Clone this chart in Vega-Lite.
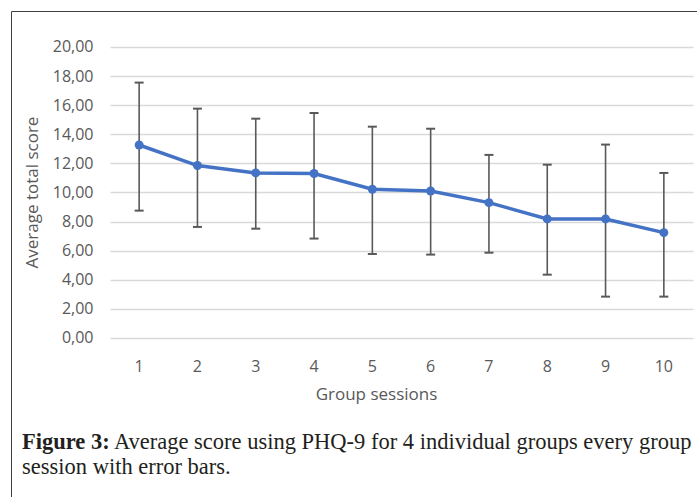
{
  "$schema": "https://vega.github.io/schema/vega-lite/v6.json",
  "width": 686,
  "height": 486,
  "autosize": {"type": "none"},
  "padding": {"left": 11, "top": 11, "right": 0, "bottom": 0},
  "background": "white",
  "config": {
    "view": {"stroke": "#3f3f3f", "strokeWidth": 1},
    "font": "Open Sans"
  },
  "title": {
    "text": "Figure 3:",
    "subtitle": [
      "\u200b\u00a0\u00a0\u00a0\u00a0\u00a0\u00a0\u00a0\u00a0\u00a0\u00a0\u00a0\u00a0\u00a0\u00a0\u00a0\u00a0\u200aAverage score using PHQ-9 for 4 individual groups every group",
      "session with error bars."
    ],
    "orient": "bottom",
    "anchor": "start",
    "frame": "group",
    "font": "Liberation Serif",
    "fontSize": 22.5,
    "fontWeight": "bold",
    "color": "#231f20",
    "subtitleFont": "Liberation Serif",
    "subtitleFontSize": 22.5,
    "subtitleFontWeight": "normal",
    "subtitleColor": "#231f20",
    "subtitlePadding": -22.5,
    "subtitleLineHeight": 25,
    "offset": -66,
    "dx": 11
  },
  "data": {
    "values": [
      {"session": 1, "mean": 13.26, "lower": 8.75, "upper": 17.55},
      {"session": 2, "mean": 11.85, "lower": 7.63, "upper": 15.76},
      {"session": 3, "mean": 11.34, "lower": 7.51, "upper": 15.07},
      {"session": 4, "mean": 11.3, "lower": 6.83, "upper": 15.46},
      {"session": 5, "mean": 10.22, "lower": 5.77, "upper": 14.52},
      {"session": 6, "mean": 10.1, "lower": 5.73, "upper": 14.38},
      {"session": 7, "mean": 9.3, "lower": 5.86, "upper": 12.58},
      {"session": 8, "mean": 8.18, "lower": 4.35, "upper": 11.91},
      {"session": 9, "mean": 8.18, "lower": 2.84, "upper": 13.29},
      {"session": 10, "mean": 7.24, "lower": 2.84, "upper": 11.34}
    ]
  },
  "encoding": {
    "x": {
      "field": "session",
      "type": "ordinal",
      "scale": {"type": "band", "range": [99, 682], "paddingInner": 0, "paddingOuter": 0},
      "axis": {
        "title": "Group sessions",
        "labelAngle": 0,
        "domain": false,
        "ticks": false,
        "tickSize": 0,
        "grid": false,
        "offset": -159,
        "labelPadding": 33,
        "labelBaseline": "alphabetic",
        "labelFont": "Open Sans",
        "labelFontSize": 16,
        "labelColor": "#595959",
        "titleFont": "Open Sans",
        "titleFontSize": 17,
        "titleFontWeight": "normal",
        "titleColor": "#595959",
        "titleX": 365,
        "titleY": 61,
        "titleBaseline": "alphabetic"
      }
    }
  },
  "layer": [
    {
      "mark": {"type": "rule", "color": "#595959", "strokeWidth": 1.6},
      "encoding": {
        "y": {
          "field": "lower",
          "type": "quantitative",
          "title": "Average total score",
          "scale": {"domain": [-10.93, 22.47], "nice": false, "zero": false},
          "axis": {
            "title": "Average total score",
            "values": [0, 2, 4, 6, 8, 10, 12, 14, 16, 18, 20],
            "labelExpr": "replace(format(datum.value, '.2f'), '.', ',')",
            "grid": true,
            "gridColor": "#D9D9D9",
            "gridWidth": 1.4,
            "domain": false,
            "ticks": false,
            "tickSize": 0,
            "labelPadding": 0,
            "offset": -82,
            "labelFont": "Open Sans",
            "labelFontSize": 16,
            "labelColor": "#595959",
            "titleFont": "Open Sans",
            "titleFontSize": 17,
            "titleFontWeight": "normal",
            "titleColor": "#595959",
            "titlePadding": 11,
            "titleY": 181
          }
        },
        "y2": {"field": "upper"}
      }
    },
    {
      "mark": {"type": "tick", "orient": "horizontal", "size": 9, "thickness": 2, "color": "#595959", "opacity": 1},
      "encoding": {"y": {"field": "lower", "type": "quantitative", "title": "Average total score"}}
    },
    {
      "mark": {"type": "tick", "orient": "horizontal", "size": 9, "thickness": 2, "color": "#595959", "opacity": 1},
      "encoding": {"y": {"field": "upper", "type": "quantitative", "title": "Average total score"}}
    },
    {
      "mark": {"type": "line", "color": "#4472C4", "strokeWidth": 3.5},
      "encoding": {"y": {"field": "mean", "type": "quantitative", "title": "Average total score"}}
    },
    {
      "mark": {"type": "point", "filled": true, "opacity": 1, "color": "#4472C4", "size": 80},
      "encoding": {"y": {"field": "mean", "type": "quantitative", "title": "Average total score"}}
    }
  ]
}
